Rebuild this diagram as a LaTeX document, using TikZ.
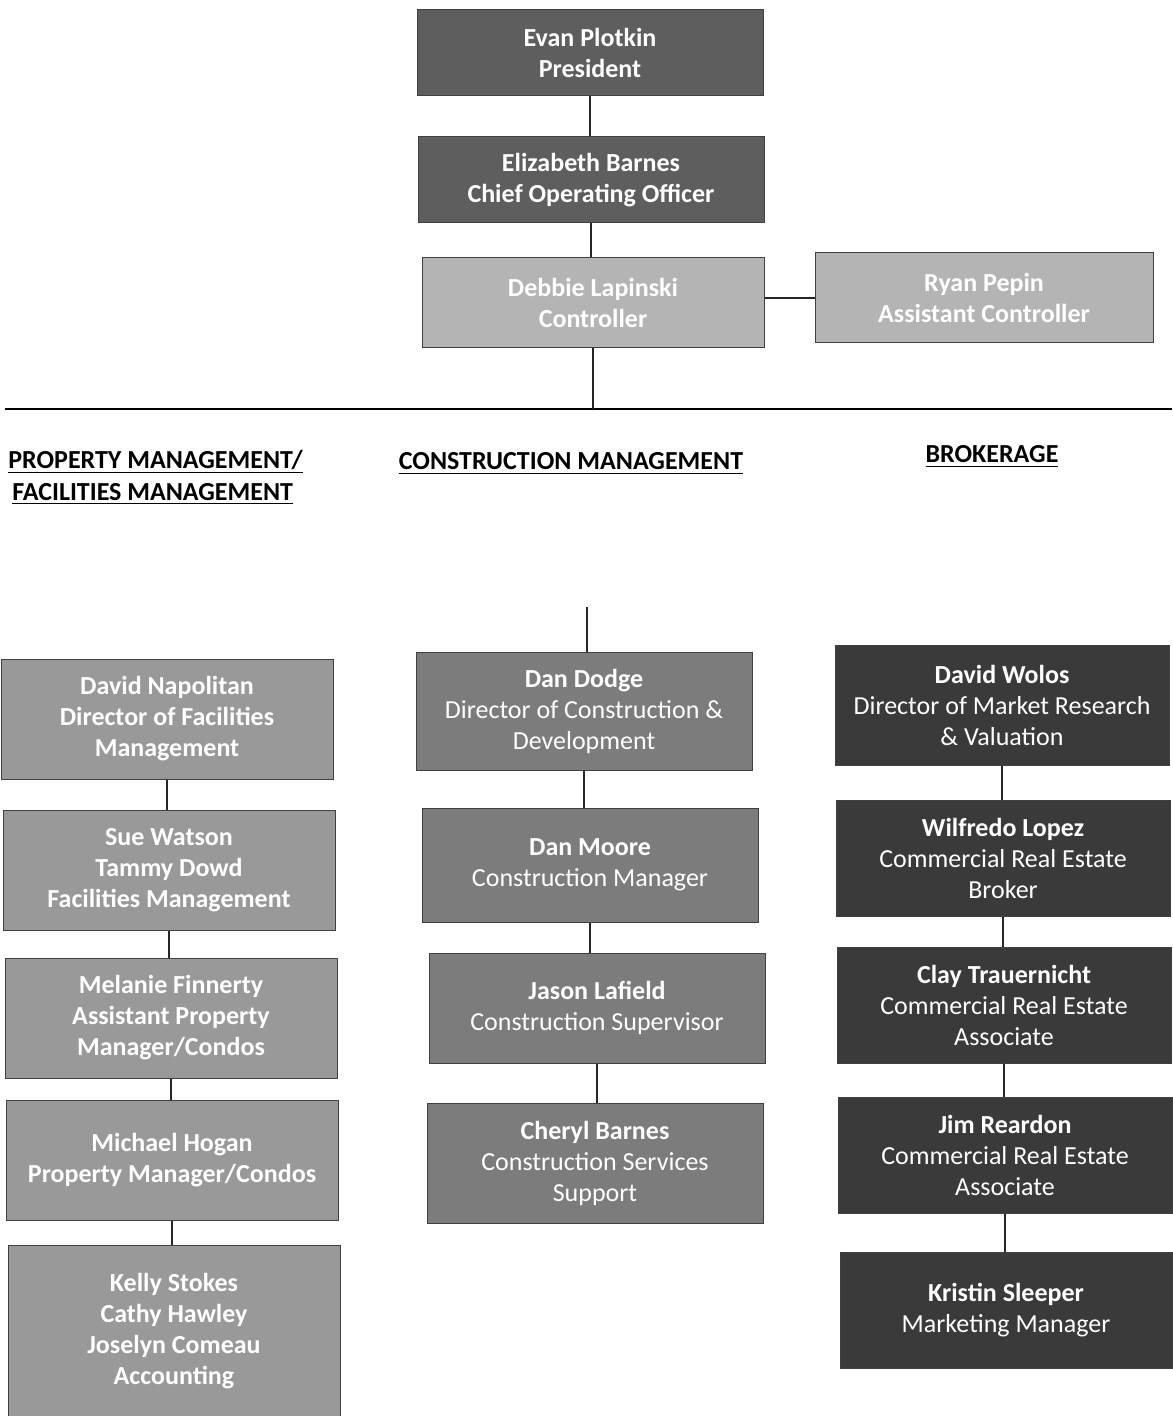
\documentclass[tikz,border=0pt]{standalone}
\usepackage{fontspec}
\setmainfont{Carlito}
\usepackage{tikz}

\definecolor{execgray}{HTML}{5E5E5E}
\definecolor{ctrlgray}{HTML}{B4B4B4}
\definecolor{pmgray}{HTML}{999999}
\definecolor{cmgray}{HTML}{7C7C7C}
\definecolor{brkgray}{HTML}{3A3A3A}

\tikzset{
  box/.style={draw=black!75, line width=0.5pt, text=white, align=center, inner sep=0pt,
    font=\fontsize{13}{15.5}\selectfont},
  execbox/.style={box, fill=execgray, font=\fontsize{13}{15.5}\selectfont\bfseries,
    minimum width=173pt, minimum height=43pt},
  ctrlbox/.style={box, fill=ctrlgray, font=\fontsize{13}{15.5}\selectfont\bfseries,
    minimum width=171pt, minimum height=45pt},
  pmbox/.style={box, fill=pmgray, font=\fontsize{13}{15.5}\selectfont\bfseries,
    minimum width=166pt, minimum height=60pt},
  cmbox/.style={box, fill=cmgray, minimum width=168pt, minimum height=58pt},
  brkbox/.style={box, fill=brkgray, minimum width=167pt, minimum height=58pt},
  head/.style={inner sep=0pt, font=\fontsize{13}{16}\selectfont\bfseries},
  link/.style={draw=black!85, line width=0.75pt}
}

\begin{document}
\begin{tikzpicture}[x=0.5pt, y=-0.5pt]
  \useasboundingbox (0,0) rectangle (1172,1416);

  % Executive
  \node[execbox] (plotkin) at (590,53) {Evan Plotkin\\President};
  \node[execbox] (barnes) at (591,180) {Elizabeth Barnes\\Chief Operating Officer};
  \node[ctrlbox] (lapinski) at (593,303) {Debbie Lapinski\\Controller};
  \node[ctrlbox, minimum width=169pt] (pepin) at (984,298) {Ryan Pepin\\Assistant Controller};

  \draw[link] (plotkin.south) -- (plotkin.south |- barnes.north);
  \draw[link] (barnes.south) -- (barnes.south |- lapinski.north);
  \draw[link] (lapinski.east |- pepin.west) -- (pepin.west);

  % Divider
  \coordinate (divw) at (5,409);
  \coordinate (dive) at (1172,409);
  \draw[line width=1pt] (divw) -- (dive);
  \draw[link] (lapinski.south) -- (lapinski.south |- divw);

  % Department headings
  \node[head, align=left, anchor=north west] (pmhead) at (8,450)
    {\underline{PROPERTY MANAGEMENT/}\\\hspace*{2pt}\underline{FACILITIES MANAGEMENT}};
  \node[head, anchor=base] (cmhead) at (571,470) {\underline{CONSTRUCTION MANAGEMENT}};
  \node[head, anchor=base] (brkhead) at (992,463) {\underline{BROKERAGE}};

  % Property / facilities management
  \node[pmbox] (napolitan) at (167,719) {David Napolitan\\Director of Facilities\\Management};
  \node[pmbox] (watson) at (169,870) {Sue Watson\\Tammy Dowd\\Facilities Management};
  \node[pmbox] (finnerty) at (171,1018) {Melanie Finnerty\\Assistant Property\\Manager/Condos};
  \node[pmbox] (hogan) at (172,1160) {Michael Hogan\\Property Manager/Condos};
  \node[pmbox, minimum height=86pt] (stokes) at (174,1331)
    {Kelly Stokes\\Cathy Hawley\\Joselyn Comeau\\Accounting};

  \draw[link] (napolitan.south) -- (napolitan.south |- watson.north);
  \draw[link] (watson.south) -- (watson.south |- finnerty.north);
  \draw[link] (finnerty.south) -- (finnerty.south |- hogan.north);
  \draw[link] (hogan.south) -- (hogan.south |- stokes.north);

  % Construction management
  \node[cmbox, minimum height=59pt] (dodge) at (584,711)
    {\textbf{Dan Dodge}\\Director of Construction \&\\Development};
  \node[cmbox, minimum height=57pt] (moore) at (590,865) {\textbf{Dan Moore}\\Construction Manager};
  \node[cmbox, minimum height=55pt] (lafield) at (597,1008) {\textbf{Jason Lafield}\\Construction Supervisor};
  \node[cmbox, minimum height=60pt] (cbarnes) at (595,1163)
    {\textbf{Cheryl Barnes}\\Construction Services\\Support};

  \coordinate (cmtop) at (587,607);
  \draw[link] (cmtop) -- (cmtop |- dodge.north);
  \draw[link] (dodge.south) -- (dodge.south |- moore.north);
  \draw[link] (moore.south) -- (moore.south |- lafield.north);
  \draw[link] (lafield.south) -- (lafield.south |- cbarnes.north);

  % Brokerage
  \node[brkbox, minimum height=60pt] (wolos) at (1002,705)
    {\textbf{David Wolos}\\Director of Market Research\\\& Valuation};
  \node[brkbox] (lopez) at (1003,858) {\textbf{Wilfredo Lopez}\\Commercial Real Estate\\Broker};
  \node[brkbox] (trauernicht) at (1004,1005) {\textbf{Clay Trauernicht}\\Commercial Real Estate\\Associate};
  \node[brkbox] (reardon) at (1005,1155) {\textbf{Jim Reardon}\\Commercial Real Estate\\Associate};
  \node[brkbox, minimum width=166pt] (sleeper) at (1006,1310) {\textbf{Kristin Sleeper}\\Marketing Manager};

  \draw[link] (wolos.south) -- (wolos.south |- lopez.north);
  \draw[link] (lopez.south) -- (lopez.south |- trauernicht.north);
  \draw[link] (trauernicht.south) -- (trauernicht.south |- reardon.north);
  \draw[link] (reardon.south) -- (reardon.south |- sleeper.north);
\end{tikzpicture}
\end{document}
